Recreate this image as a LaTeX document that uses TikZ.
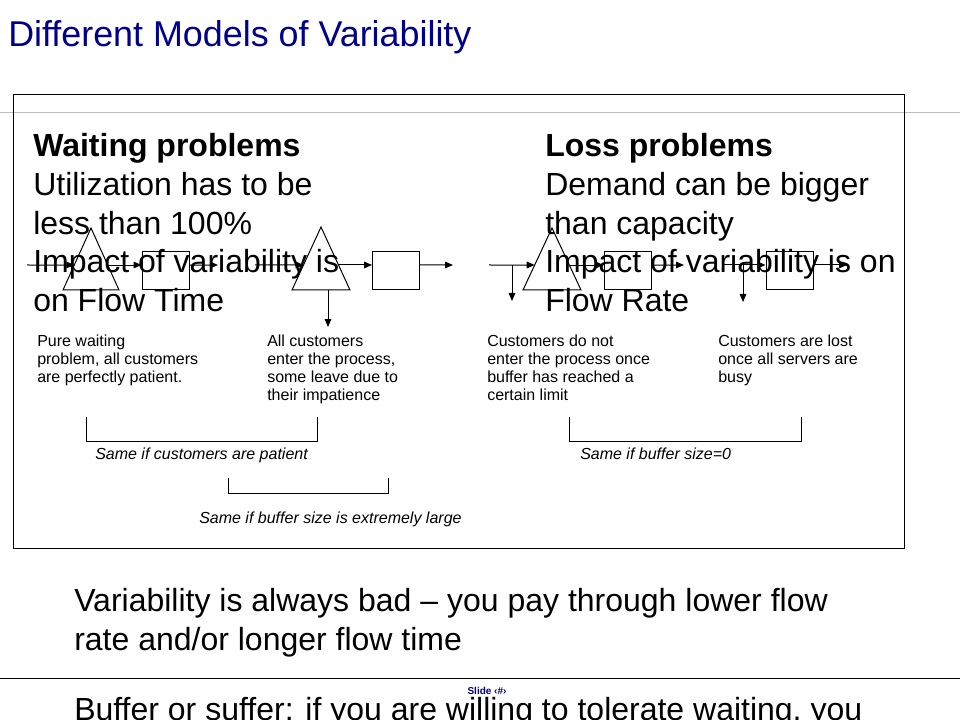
\documentclass[tikz,border=0pt]{standalone}
\usepackage{fontspec}
\setmainfont{Liberation Sans}
\usetikzlibrary{arrows.meta,calc}
\definecolor{navy}{RGB}{0,0,139}
\definecolor{rulegray}{RGB}{190,190,190}
\tikzset{
  thinline/.style={line width=0.75pt,black},
  arr/.style={thinline,-{Triangle[length=6pt,width=5pt]}},
  srv/.style={draw,line width=0.75pt,minimum width=35.25pt,minimum height=28.5pt,inner sep=0pt},
  big/.style={anchor=north west,inner sep=0pt,align=left,font={\fontsize{24pt}{29.1pt}\selectfont}},
  small/.style={anchor=north west,inner sep=0pt,align=left,font={\fontsize{12pt}{13.5pt}\selectfont}},
  note/.style={anchor=base west,inner sep=0pt,font={\fontsize{12pt}{13.5pt}\selectfont\itshape}},
  bracket/.style={thinline},
}
\begin{document}
\begin{tikzpicture}[x=0.75pt,y=-0.75pt]
\clip (0,0) rectangle (960,720);
\fill[white] (0,0) rectangle (960,720);

% title and rules
\node[anchor=base west,inner sep=0pt,text=navy,font={\fontsize{26.9pt}{30pt}\selectfont}] (title) at (8,47) {Different Models of Variability};
\draw[rulegray,line width=0.75pt] (0,113) -- (960,113);
\draw[line width=0.75pt] (13,95) rectangle (904,548);

% headings (text over diagrams)
\node[big] (wait) at (33,133) {\textbf{Waiting problems}\\Utilization has to be\\less than 100\%\\Impact of variability is\\on Flow Time};
\node[big] (loss) at (545,133) {\textbf{Loss problems}\\Demand can be bigger\\than capacity\\Impact of variability is on\\Flow Rate};

% ---------- diagram 1 ----------
\coordinate (t1a) at (91,228); \coordinate (t1l) at (63,290); \coordinate (t1r) at (119,290);
\draw[thinline] (t1a) -- (t1l) -- (t1r) -- cycle;
\coordinate (t1in) at ($(t1a)!0.597!(t1l)$);
\coordinate (t1out) at ($(t1a)!0.597!(t1r)$);
\node[srv] (b1) at (165.5,271) {};
\coordinate (s1) at (27,265);
\coordinate (e1) at (218,265);
\draw[arr] (s1) -- (t1in);
\draw[arr] (t1out) -- (b1.west |- t1out);
\draw[arr] (b1.east |- t1out) -- (e1);

% ---------- diagram 2 ----------
\coordinate (t2a) at (321,227); \coordinate (t2l) at (292,290); \coordinate (t2r) at (350,290);
\draw[thinline] (t2a) -- (t2l) -- (t2r) -- cycle;
\coordinate (t2in) at ($(t2a)!0.603!(t2l)$);
\coordinate (t2out) at ($(t2a)!0.603!(t2r)$);
\node[srv] (b2) at (396,271) {};
\coordinate (s2) at (255,265);
\coordinate (e2) at (453,265);
\coordinate (t2b) at (328,290);
\coordinate (d2) at (328,327);
\draw[arr] (s2) -- (t2in);
\draw[arr] (t2out) -- (b2.west |- t2out);
\draw[arr] (b2.east |- t2out) -- (e2);
\draw[arr] (t2b) -- (d2);

% ---------- diagram 3 ----------
\coordinate (t3a) at (552,228); \coordinate (t3l) at (523,290); \coordinate (t3r) at (581,290);
\draw[thinline] (t3a) -- (t3l) -- (t3r) -- cycle;
\coordinate (t3in) at ($(t3a)!0.597!(t3l)$);
\coordinate (t3out) at ($(t3a)!0.597!(t3r)$);
\node[srv] (b3) at (627.5,271) {};
\coordinate (s3) at (489,265);
\coordinate (j3) at (512,265);
\coordinate (d3) at (512,301);
\coordinate (e3) at (684,265);
\draw[arr] (s3) -- (t3in);
\draw[arr] (j3) -- (d3);
\draw[arr] (t3out) -- (b3.west |- t3out);
\draw[arr] (b3.east |- t3out) -- (e3);

% ---------- diagram 4 ----------
\node[srv] (b4) at (789.5,271) {};
\coordinate (s4) at (722,265);
\coordinate (j4) at (743,265);
\coordinate (d4) at (743,302);
\coordinate (e4) at (847,265);
\draw[arr] (s4) -- (b4.west |- s4);
\draw[arr] (j4) -- (d4);
\draw[arr] (b4.east |- s4) -- (e4);

% ---------- descriptions ----------
\node[small] (c1) at (37,335) {Pure waiting\\problem, all customers\\are perfectly patient.};
\node[small] (c2) at (267,335) {All customers\\enter the process,\\some leave due to\\their impatience};
\node[small] (c3) at (487,335) {Customers do not\\enter the process once\\buffer has reached a\\certain limit};
\node[small] (c4) at (718,335) {Customers are lost\\once all servers are\\busy};

% ---------- brackets ----------
\coordinate (k1a) at (86,417); \coordinate (k1b) at (86,441); \coordinate (k1c) at (317,441); \coordinate (k1d) at (317,417);
\draw[bracket] (k1a) -- (k1b) -- (k1c) -- (k1d);
\node[note] (n1) at (95,459) {Same if customers are patient};

\coordinate (k2a) at (228,478); \coordinate (k2b) at (228,493); \coordinate (k2c) at (388,493); \coordinate (k2d) at (388,478);
\draw[bracket] (k2a) -- (k2b) -- (k2c) -- (k2d);
\node[note] (n2) at (199,523) {Same if buffer size is extremely large};

\coordinate (k3a) at (569,417); \coordinate (k3b) at (569,441); \coordinate (k3c) at (801,441); \coordinate (k3d) at (801,417);
\draw[bracket] (k3a) -- (k3b) -- (k3c) -- (k3d);
\node[note] (n3) at (580,459) {Same if buffer size=0};

% ---------- bottom ----------
\node[anchor=base west,inner sep=0pt,font={\fontsize{24pt}{29.1pt}\selectfont}] (v1) at (74,611) {Variability is always bad – you pay through lower flow};
\node[anchor=base west,inner sep=0pt,font={\fontsize{24pt}{29.1pt}\selectfont}] (v2) at (74,650) {rate and/or longer flow time};
\draw[line width=0.75pt] (0,678) -- (960,678);
\node[anchor=base,inner sep=0pt,text=navy,font={\fontsize{7.5pt}{9pt}\selectfont\bfseries}] (slide) at (487,694) {Slide ‹\#›};
\node[anchor=base west,inner sep=0pt,font={\fontsize{24pt}{29.1pt}\selectfont}] (v3) at (74,720) {Buffer or suffer: if you are willing to tolerate waiting, you};
\end{tikzpicture}
\end{document}
